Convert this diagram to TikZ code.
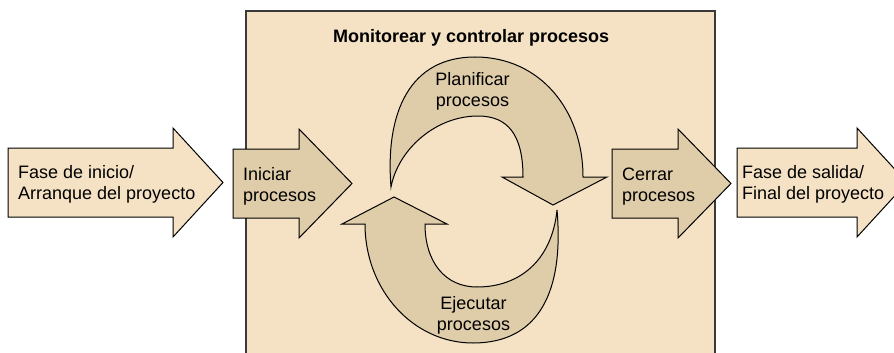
\documentclass[tikz,border=0pt]{standalone}
\usepackage{fontspec}
\setmainfont{Liberation Sans}
\definecolor{lightfill}{HTML}{F5E2C4}
\definecolor{darkfill}{HTML}{DFCCA9}
\definecolor{boxline}{HTML}{3A3A3A}
\newcommand{\lftwo}[2]{\begin{tabular}[t]{@{}l@{}}#1\\#2\end{tabular}}
\newcommand{\ctwo}[2]{\begin{tabular}[t]{@{}c@{}}#1\\#2\end{tabular}}
\begin{document}
\begin{tikzpicture}[x=1pt,y=-1pt,
  ctrlbox/.style={draw=boxline, line width=2pt, fill=lightfill, inner sep=0pt},
  lightarrow/.style={draw=black, line width=1pt, fill=lightfill, line join=miter},
  darkarrow/.style={draw=black, line width=1pt, fill=darkfill, line join=miter},
  lbl/.style={font=\fontsize{18}{21}\selectfont, inner sep=0pt, text=black},
  title/.style={font=\fontsize{18}{21}\selectfont\bfseries, inner sep=0pt, text=black}]
\useasboundingbox (0,0) rectangle (894,353);
\clip (0,0) rectangle (894,353);
% monitoring box
\node[ctrlbox, minimum width=469pt, minimum height=400pt, anchor=north west] (ctrl) at (245,10) {};
% outer phase arrows
\draw[lightarrow] (8,148) -- (173,148) -- (173,128) -- (223,182.5) -- (173,237) -- (173,217) -- (8,217) -- cycle;
\draw[lightarrow] (737,148) -- (857,148) -- (857,128) -- (907,182.5) -- (857,237) -- (857,217) -- (737,217) -- cycle;
% process arrows
\draw[darkarrow] (233,149) -- (299,149) -- (299,129) -- (352,183.5) -- (299,238) -- (299,218) -- (233,218) -- cycle;
\draw[darkarrow] (612,149) -- (678,149) -- (678,129) -- (731,183.5) -- (678,238) -- (678,218) -- (612,218) -- cycle;
% planning arrow (upper)
\draw[darkarrow] (391,187) .. controls (385,112) and (410,57) .. (475,57)
  .. controls (540,57) and (583,110) .. (583,177)
  -- (607,177) -- (553,205) -- (502,177) -- (523,177)
  .. controls (523,135) and (508,116) .. (478,116)
  .. controls (435,116) and (398,150) .. (391,187) -- cycle;
% executing arrow (lower)
\draw[darkarrow] (365,224) .. controls (365,290) and (413,343) .. (473,343)
  .. controls (540,343) and (564,290) .. (557,210)
  .. controls (552,260) and (520,287) .. (477,287)
  .. controls (445,287) and (425,262) .. (425,224)
  -- (447,224) -- (394,197) -- (342,224) -- cycle;
% texts
\node[title, anchor=base west] (ttl) at (333,43) {Monitorear y controlar procesos};
\node[lbl, anchor=base west] (inicio) at (18,178) {\lftwo{Fase de inicio/}{Arranque del proyecto}};
\node[lbl, anchor=base west] (iniciar) at (243,180) {\lftwo{Iniciar}{procesos}};
\node[lbl, anchor=base west] (cerrar) at (622,180) {\lftwo{Cerrar}{procesos}};
\node[lbl, anchor=base west] (salida) at (742,178) {\lftwo{Fase de salida/}{Final del proyecto}};
\node[lbl, anchor=base] (plan) at (472.5,85) {\ctwo{Planificar}{procesos}};
\node[lbl, anchor=base] (ejec) at (473.5,309) {\ctwo{Ejecutar}{procesos}};
\end{tikzpicture}
\end{document}
